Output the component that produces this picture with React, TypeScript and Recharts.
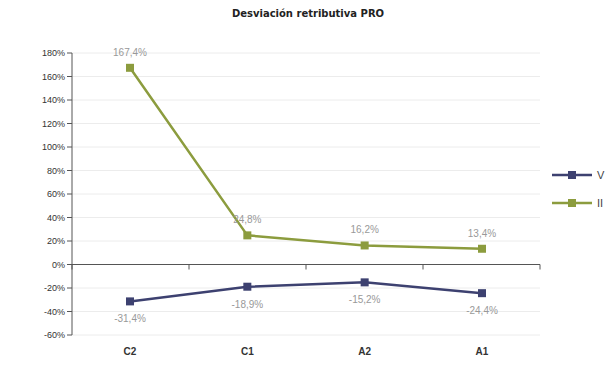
import { LineChart, Line, XAxis, YAxis, CartesianGrid, ReferenceLine, LabelList } from 'recharts';

const categories = ['C2', 'C1', 'A2', 'A1'];
const seriesV = [-31.4, -18.9, -15.2, -24.4];
const seriesII = [167.4, 24.8, 16.2, 13.4];
const yTicks = [-60, -40, -20, 0, 20, 40, 60, 80, 100, 120, 140, 160, 180];

const DARK = '#3d4170';
const GREEN = '#8c9c3e';

const data = categories.map((c, i) => ({ category: c, V: seriesV[i], II: seriesII[i] }));

const fmt = (v: number) => `${v.toFixed(1).replace('.', ',')}%`;

const SquareDot = (props: any) => {
  const { cx, cy, stroke } = props;
  if (cx == null || cy == null) return null;
  return <rect x={cx - 4} y={cy - 4} width={8} height={8} fill={stroke} />;
};

// horizontal axis drawn at the 0% line, with ticks between categories
const ZeroAxis = (props: any) => {
  const { x1, x2, y1 } = props;
  const n = categories.length;
  const step = (x2 - x1) / n;
  return (
    <g>
      <line x1={x1} x2={x2} y1={y1} y2={y1} stroke="#555" strokeWidth={1} />
      {Array.from({ length: n + 1 }, (_, i) => (
        <line key={i} x1={x1 + step * i} x2={x1 + step * i} y1={y1} y2={y1 + 5} stroke="#555" />
      ))}
    </g>
  );
};

const legendItems = [
  { name: 'V', color: DARK },
  { name: 'II', color: GREEN },
];

export default function App() {
  return (
    <div style={{ position: 'absolute', left: 0, top: 0, width: 616, height: 378, background: '#fff', overflow: 'hidden' }}>
      <div
        style={{
          position: 'absolute',
          top: 8,
          width: 616,
          textAlign: 'center',
          fontFamily: 'DejaVu Sans, Verdana',
          fontWeight: 'bold',
          fontSize: 10,
          color: '#222',
        }}
      >
        Desviación retributiva PRO
      </div>
      <LineChart width={616} height={378} data={data} margin={{ top: 53, right: 76, left: 22, bottom: 24 }}>
        <CartesianGrid vertical={false} stroke="#ececec" />
        <XAxis
          dataKey="category"
          axisLine={false}
          tickLine={false}
          padding={{ left: 58, right: 58 }}
          tick={{ fontSize: 10, fontWeight: 'bold', fill: '#333', fontFamily: 'Liberation Sans, Arial', dy: 5 }}
          height={19}
        />
        <YAxis
          domain={[-60, 180]}
          ticks={yTicks}
          interval={0}
          width={50}
          axisLine={{ stroke: '#555' }}
          tickLine={{ stroke: '#555' }}
          tickSize={5}
          tickFormatter={(v: number) => `${v}%`}
          tick={{ fontSize: 9, fill: '#333', fontFamily: 'Liberation Sans, Arial' }}
        />
        <ReferenceLine y={0} shape={<ZeroAxis />} />
        <Line
          dataKey="V"
          stroke={DARK}
          strokeWidth={2.5}
          dot={<SquareDot />}
          isAnimationActive={false}
        >
          <LabelList dataKey="V" position="bottom" offset={14} formatter={fmt} fill="#999" fontSize={10} fontFamily="Liberation Sans, Arial" />
        </Line>
        <Line
          dataKey="II"
          stroke={GREEN}
          strokeWidth={2.5}
          dot={<SquareDot />}
          isAnimationActive={false}
        >
          <LabelList dataKey="II" position="top" offset={12} formatter={fmt} fill="#999" fontSize={10} fontFamily="Liberation Sans, Arial" />
        </Line>
      </LineChart>
      <div
        style={{
          position: 'absolute',
          left: 552,
          top: 161,
          fontFamily: 'Liberation Sans, Arial',
          fontSize: 11,
          color: '#444',
        }}
      >
        {legendItems.map((s) => (
          <div key={s.name} style={{ display: 'flex', alignItems: 'center', height: 28 }}>
            <svg width={40} height={10}>
              <line x1={0} x2={40} y1={5} y2={5} stroke={s.color} strokeWidth={2.5} />
              <rect x={16} y={1} width={8} height={8} fill={s.color} />
            </svg>
            <span style={{ marginLeft: 5, whiteSpace: 'nowrap' }}>{s.name}</span>
          </div>
        ))}
      </div>
    </div>
  );
}
